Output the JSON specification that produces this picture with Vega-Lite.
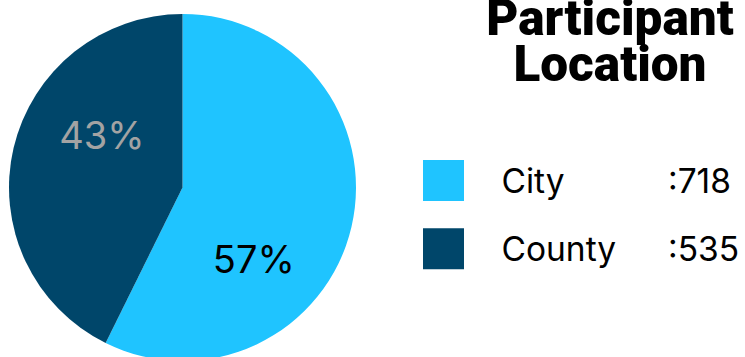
{
  "$schema": "https://vega.github.io/schema/vega-lite/v6.json",
  "padding": 0,
  "spacing": 0,
  "bounds": "flush",
  "background": "white",
  "config": {"view": {"stroke": null}},
  "data": {"values": [
    {"category": "City", "count": 718},
    {"category": "County", "count": 535}
  ]},
  "transform": [
    {"joinaggregate": [{"op": "sum", "field": "count", "as": "total"}]},
    {"calculate": "datum.count / datum.total", "as": "share"},
    {"calculate": "':' + datum.count", "as": "countLabel"}
  ],
  "hconcat": [
    {
      "width": 365,
      "height": 375,
      "encoding": {
        "theta": {"field": "count", "type": "quantitative", "stack": true},
        "order": {"field": "category", "type": "ordinal", "sort": "ascending"}
      },
      "layer": [
        {
          "mark": {"type": "arc", "radius": 173.5},
          "encoding": {
            "color": {"field": "category", "type": "nominal",
              "scale": {"domain": ["City", "County"], "range": ["#1FC4FF", "#00466A"]},
              "legend": null}
          }
        },
        {
          "mark": {"type": "text", "radius": 94, "dx": 11, "dy": -28, "font": "Inter", "fontSize": 38,
            "align": "center", "baseline": "middle", "fill": "#A3A3A3"},
          "encoding": {
            "text": {"field": "share", "type": "quantitative", "format": ".0%"},
            "detail": {"field": "category", "type": "nominal"},
            "opacity": {"condition": {"test": "datum.category === 'County'", "value": 1}, "value": 0}
          }
        },
        {
          "mark": {"type": "text", "radius": 103, "dx": -29, "dy": 51, "font": "Inter", "fontSize": 38,
            "align": "center", "baseline": "middle", "fill": "#000000"},
          "encoding": {
            "text": {"field": "share", "type": "quantitative", "format": ".0%"},
            "detail": {"field": "category", "type": "nominal"},
            "opacity": {"condition": {"test": "datum.category === 'City'", "value": 1}, "value": 0}
          }
        }
      ]
    },
    {
      "width": 380,
      "height": 375,
      "encoding": {
        "y": {"field": "category", "type": "nominal",
          "scale": {"domain": ["City", "County"], "range": [180.5, 248.7], "padding": 0},
          "axis": null}
      },
      "layer": [
        {
          "mark": {"type": "point", "shape": "square", "filled": true, "size": 1681, "opacity": 1},
          "encoding": {
            "x": {"datum": "sym", "type": "nominal",
              "scale": {"domain": ["sym", "val"], "range": [78.5, 303], "padding": 0},
              "axis": null},
            "color": {"field": "category", "type": "nominal",
              "scale": {"domain": ["City", "County"], "range": ["#1FC4FF", "#00466A"]},
              "legend": null}
          }
        },
        {
          "mark": {"type": "text", "font": "Inter", "fontSize": 33.5, "align": "left", "baseline": "alphabetic",
            "dx": 58, "dy": 12, "fill": "#000000"},
          "encoding": {
            "x": {"datum": "sym", "type": "nominal"},
            "text": {"field": "category", "type": "nominal"}
          }
        },
        {
          "mark": {"type": "text", "font": "Inter", "fontSize": 33.5, "align": "left", "baseline": "alphabetic",
            "dy": 12, "fill": "#000000"},
          "encoding": {
            "x": {"datum": "val", "type": "nominal"},
            "text": {"field": "countLabel", "type": "nominal"}
          }
        },
        {
          "transform": [{"filter": "datum.category === 'City'"}],
          "mark": {"type": "text", "font": "Roboto", "fontSize": 49.5, "fontWeight": 900, "align": "center",
            "baseline": "alphabetic", "lineHeight": 46, "dx": 166.5, "dy": -145.5, "fill": "#000000", "clip": true},
          "encoding": {
            "x": {"datum": "sym", "type": "nominal"},
            "y": {"datum": "City", "type": "nominal"},
            "text": {"value": ["Participant", "Location"]}
          }
        }
      ]
    }
  ]
}
